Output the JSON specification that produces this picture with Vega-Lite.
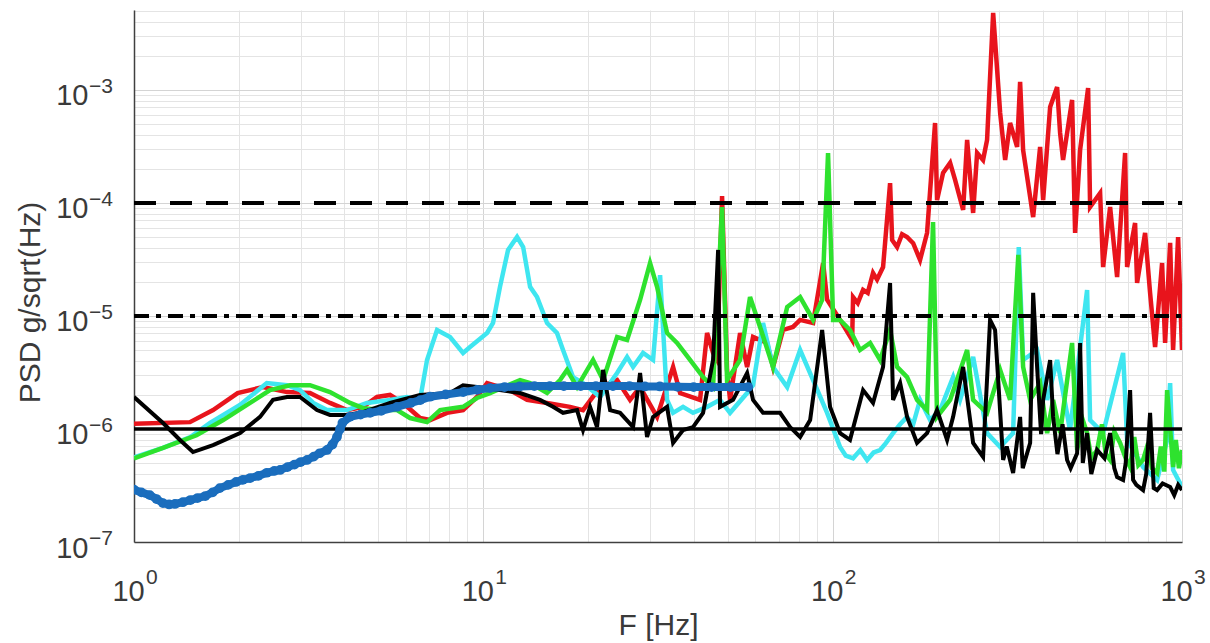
{
  "$schema": "https://vega.github.io/schema/vega-lite/v6.json",
  "autosize": {"type": "none"},
  "padding": {"left": 134, "top": 10, "right": 28, "bottom": 101},
  "width": 1048,
  "height": 532,
  "background": "white",
  "config": {"view": {"stroke": null}, "font": "Liberation Sans"},
  "datasets": {
    "xexp": [
      {"f": 1, "v": 1e-7, "e": "0"}, {"f": 10, "v": 1e-7, "e": "1"}, {"f": 100, "v": 1e-7, "e": "2"}, {"f": 1000, "v": 1e-7, "e": "3"}
    ],
    "yexp": [
      {"f": 1, "v": 1e-7, "e": "−7"}, {"f": 1, "v": 1e-6, "e": "−6"}, {"f": 1, "v": 1e-5, "e": "−5"}, {"f": 1, "v": 1e-4, "e": "−4"}, {"f": 1, "v": 1e-3, "e": "−3"}
    ],
    "ref": [
      {"f": 1, "v": 0.0001, "k": "dash"}, {"f": 1000, "v": 0.0001, "k": "dash"},
      {"f": 1, "v": 0.00001, "k": "dashdot"}, {"f": 1000, "v": 0.00001, "k": "dashdot"},
      {"f": 1, "v": 0.000001, "k": "solid"}, {"f": 1000, "v": 0.000001, "k": "solid"}
    ],
    "red": [
      {"f": 1, "v": 1.11e-6}, {"f": 1.446, "v": 1.15e-6}, {"f": 1.684, "v": 1.47e-6}, {"f": 1.98, "v": 2.08e-6},
      {"f": 2.34, "v": 2.35e-6}, {"f": 2.742, "v": 2.12e-6}, {"f": 3.19, "v": 2.08e-6}, {"f": 3.64, "v": 1.7e-6},
      {"f": 4.073, "v": 1.47e-6}, {"f": 4.525, "v": 1.57e-6}, {"f": 4.963, "v": 1.92e-6}, {"f": 5.407, "v": 2.0e-6},
      {"f": 5.89, "v": 1.7e-6}, {"f": 6.589, "v": 1.25e-6}, {"f": 7.04, "v": 1.2e-6}, {"f": 7.87, "v": 1.39e-6},
      {"f": 8.75, "v": 1.47e-6}, {"f": 9.59, "v": 1.92e-6}, {"f": 10.25, "v": 2.55e-6}, {"f": 11.9, "v": 2.21e-6},
      {"f": 13.34, "v": 1.81e-6}, {"f": 15.22, "v": 1.7e-6}, {"f": 17.71, "v": 1.57e-6}, {"f": 19.29, "v": 1.47e-6},
      {"f": 21.59, "v": 2.35e-6}, {"f": 24.15, "v": 2.71e-6}, {"f": 26.3, "v": 1.81e-6}, {"f": 28.1, "v": 2.35e-6},
      {"f": 31.43, "v": 1.28e-6}, {"f": 34.93, "v": 3.54e-6}, {"f": 36.58, "v": 2.08e-6}, {"f": 41.72, "v": 1.81e-6},
      {"f": 43.7, "v": 7.07e-6}, {"f": 45.45, "v": 4.71e-6}, {"f": 46.67, "v": 4.08e-6}, {"f": 48.24, "v": 1.15e-4},
      {"f": 49.85, "v": 3.33e-6}, {"f": 50.85, "v": 1.81e-6}, {"f": 54.32, "v": 7.07e-6}, {"f": 56.9, "v": 3.54e-6},
      {"f": 59.17, "v": 6.52e-6}, {"f": 64.9, "v": 5.77e-6}, {"f": 67.5, "v": 3.54e-6}, {"f": 72.1, "v": 7.52e-6},
      {"f": 77.0, "v": 8.0e-6}, {"f": 80.7, "v": 9.23e-6}, {"f": 87.9, "v": 8.67e-6}, {"f": 93.9, "v": 2.94e-5},
      {"f": 96.4, "v": 1.39e-5}, {"f": 105, "v": 9.23e-6}, {"f": 113.7, "v": 6.14e-6}, {"f": 114.4, "v": 1.47e-5},
      {"f": 118, "v": 1.3e-5}, {"f": 122.2, "v": 1.7e-5}, {"f": 126, "v": 1.6e-5}, {"f": 130.5, "v": 2.4e-5},
      {"f": 134, "v": 2.1e-5}, {"f": 139.4, "v": 2.71e-5}, {"f": 146, "v": 1.5e-4},
      {"f": 148, "v": 4.71e-5}, {"f": 152.9, "v": 4.08e-5}, {"f": 158, "v": 5.3e-5}, {"f": 163.3, "v": 5.0e-5}, {"f": 170, "v": 4.4e-5}, {"f": 177.9, "v": 3.13e-5},
      {"f": 186.3, "v": 5.43e-5}, {"f": 196.4, "v": 5.1e-4}, {"f": 199, "v": 1.06e-4}, {"f": 207, "v": 1.84e-4},
      {"f": 216.9, "v": 2.26e-4}, {"f": 224.1, "v": 1.6e-4}, {"f": 236.3, "v": 8.67e-5}, {"f": 242.6, "v": 3.61e-4},
      {"f": 252.4, "v": 8.16e-5}, {"f": 259.1, "v": 2.77e-4}, {"f": 269.5, "v": 2.4e-4}, {"f": 276.7, "v": 3.61e-4},
      {"f": 288, "v": 4.8e-3}, {"f": 301.6, "v": 6.25e-4}, {"f": 311.7, "v": 2.4e-4}, {"f": 322, "v": 5.1e-4},
      {"f": 337.3, "v": 3.13e-4}, {"f": 344, "v": 1.18e-3}, {"f": 350.9, "v": 2.94e-4}, {"f": 374.9, "v": 7.5e-5},
      {"f": 392.5, "v": 3.13e-4}, {"f": 400.4, "v": 1.06e-4}, {"f": 419.3, "v": 7.08e-4}, {"f": 439.1, "v": 1.06e-3},
      {"f": 447.8, "v": 4.16e-4}, {"f": 456.6, "v": 2.4e-4}, {"f": 484.6, "v": 8.16e-4}, {"f": 494.3, "v": 5.43e-5},
      {"f": 510.9, "v": 2.94e-4}, {"f": 538.6, "v": 1.04e-3}, {"f": 545.7, "v": 9.2e-5}, {"f": 582.9, "v": 1.22e-4},
      {"f": 594.5, "v": 2.71e-5}, {"f": 622.6, "v": 9.2e-5}, {"f": 652, "v": 2.21e-5}, {"f": 687.3, "v": 2.77e-4},
      {"f": 696.4, "v": 2.71e-5}, {"f": 734, "v": 6.65e-5}, {"f": 743.8, "v": 1.96e-5}, {"f": 784.1, "v": 5.43e-5},
      {"f": 810.3, "v": 1.6e-5}, {"f": 837.5, "v": 5.32e-6}, {"f": 877, "v": 2.94e-5}, {"f": 894.6, "v": 5.77e-6},
      {"f": 924.7, "v": 4.43e-5}, {"f": 943, "v": 5.0e-6}, {"f": 974.6, "v": 5.0e-5}, {"f": 1000, "v": 5.0e-6}
    ],
    "cyan": [
      {"f": 1, "v": 5.6e-7}, {"f": 1.21, "v": 6.8e-7}, {"f": 1.45, "v": 8.5e-7}, {"f": 1.651, "v": 1.13e-6},
      {"f": 2.01, "v": 1.63e-6}, {"f": 2.4, "v": 2.55e-6}, {"f": 2.742, "v": 2.44e-6}, {"f": 2.987, "v": 2.21e-6},
      {"f": 3.26, "v": 1.7e-6}, {"f": 3.568, "v": 1.47e-6}, {"f": 4.073, "v": 1.47e-6}, {"f": 4.645, "v": 1.7e-6},
      {"f": 5.407, "v": 1.81e-6}, {"f": 6.048, "v": 1.92e-6}, {"f": 6.589, "v": 1.81e-6}, {"f": 6.9, "v": 4.08e-6},
      {"f": 7.37, "v": 7.52e-6}, {"f": 8.03, "v": 6.52e-6}, {"f": 8.75, "v": 4.71e-6}, {"f": 9.16, "v": 5.32e-6},
      {"f": 10.25, "v": 7.07e-6}, {"f": 10.66, "v": 8.67e-6}, {"f": 11.16, "v": 1.81e-5}, {"f": 11.77, "v": 3.84e-5},
      {"f": 12.49, "v": 5.0e-5}, {"f": 13.0, "v": 4.08e-5}, {"f": 13.61, "v": 1.81e-5}, {"f": 14.25, "v": 1.47e-5},
      {"f": 15.22, "v": 8.67e-6}, {"f": 16.25, "v": 7.07e-6}, {"f": 16.91, "v": 5.0e-6}, {"f": 18.06, "v": 2.88e-6},
      {"f": 19.29, "v": 2.55e-6}, {"f": 21.59, "v": 1.92e-6}, {"f": 24.15, "v": 3.13e-6}, {"f": 25.79, "v": 4.34e-6},
      {"f": 26.83, "v": 3.54e-6}, {"f": 28.66, "v": 4.71e-6}, {"f": 30.61, "v": 4.08e-6}, {"f": 32.06, "v": 2.3e-5},
      {"f": 33.57, "v": 1.81e-6}, {"f": 34.93, "v": 1.39e-6}, {"f": 37.3, "v": 1.57e-6}, {"f": 39.84, "v": 1.39e-6},
      {"f": 43.7, "v": 1.57e-6}, {"f": 47.6, "v": 1.81e-6}, {"f": 50.85, "v": 1.39e-6}, {"f": 56.9, "v": 2.08e-6},
      {"f": 59.17, "v": 2.44e-6}, {"f": 63.2, "v": 8.67e-6}, {"f": 67.5, "v": 3.54e-6}, {"f": 74.1, "v": 2.35e-6},
      {"f": 80.7, "v": 5.0e-6}, {"f": 87.9, "v": 2.71e-6}, {"f": 96.4, "v": 1.39e-6}, {"f": 105, "v": 6.93e-7},
      {"f": 109, "v": 5.8e-7}, {"f": 114.4, "v": 5.5e-7}, {"f": 120, "v": 6.5e-7}, {"f": 125.5, "v": 5.32e-7}, {"f": 131, "v": 6.2e-7}, {"f": 136.7, "v": 6.52e-7}, {"f": 142, "v": 7.5e-7}, {"f": 148.9, "v": 9.2e-7},
      {"f": 156, "v": 1.1e-6}, {"f": 163.3, "v": 1.28e-6}, {"f": 170, "v": 1.1e-6}, {"f": 177.9, "v": 1.81e-6}, {"f": 190, "v": 1.2e-6}, {"f": 203, "v": 1.47e-6}, {"f": 221.2, "v": 2.88e-6},
      {"f": 231.6, "v": 1.81e-6}, {"f": 252.4, "v": 4.34e-6}, {"f": 276.7, "v": 9.2e-7}, {"f": 301.6, "v": 6.93e-7},
      {"f": 328.5, "v": 9.2e-7}, {"f": 341, "v": 4.08e-5}, {"f": 350.9, "v": 4.08e-6}, {"f": 384.8, "v": 5.0e-6},
      {"f": 411.1, "v": 1.81e-6}, {"f": 439.1, "v": 4.08e-6}, {"f": 478, "v": 9.8e-7}, {"f": 535, "v": 1.7e-5},
      {"f": 545.7, "v": 1.2e-6}, {"f": 594.5, "v": 9.2e-7}, {"f": 678.3, "v": 4.71e-6}, {"f": 696.4, "v": 8.0e-7},
      {"f": 773.7, "v": 4.61e-7}, {"f": 848.6, "v": 3.54e-7}, {"f": 906.6, "v": 8.0e-7}, {"f": 924.7, "v": 2.55e-6},
      {"f": 943, "v": 4.34e-7}, {"f": 1000, "v": 3.07e-7}
    ],
    "green": [
      {"f": 1, "v": 5.5e-7}, {"f": 1.211, "v": 6.8e-7}, {"f": 1.51, "v": 8.8e-7}, {"f": 1.8, "v": 1.2e-6},
      {"f": 2.149, "v": 1.7e-6}, {"f": 2.451, "v": 2.21e-6}, {"f": 2.797, "v": 2.44e-6}, {"f": 3.19, "v": 2.44e-6},
      {"f": 3.64, "v": 2.12e-6}, {"f": 4.154, "v": 1.7e-6}, {"f": 4.525, "v": 1.53e-6}, {"f": 5.164, "v": 1.47e-6},
      {"f": 5.662, "v": 1.47e-6}, {"f": 6.169, "v": 1.25e-6}, {"f": 6.9, "v": 1.15e-6}, {"f": 7.52, "v": 1.47e-6},
      {"f": 8.75, "v": 1.57e-6}, {"f": 9.59, "v": 1.88e-6}, {"f": 10.45, "v": 2.08e-6}, {"f": 12.74, "v": 2.71e-6},
      {"f": 13.61, "v": 2.55e-6}, {"f": 15.22, "v": 2.08e-6}, {"f": 16.58, "v": 2.71e-6}, {"f": 17.36, "v": 3.33e-6},
      {"f": 18.55, "v": 2.35e-6}, {"f": 20.61, "v": 4.08e-6}, {"f": 22.02, "v": 2.71e-6}, {"f": 24.15, "v": 6.52e-6},
      {"f": 25.79, "v": 6.14e-6}, {"f": 28.1, "v": 1.39e-5}, {"f": 30.01, "v": 2.94e-5}, {"f": 31.43, "v": 1.81e-5},
      {"f": 33.57, "v": 7.07e-6}, {"f": 35.86, "v": 5.77e-6}, {"f": 39.06, "v": 4.08e-6}, {"f": 42.56, "v": 2.88e-6},
      {"f": 45.45, "v": 2.35e-6}, {"f": 48.24, "v": 9.2e-5}, {"f": 49.85, "v": 2.71e-6}, {"f": 54.32, "v": 4.08e-6},
      {"f": 58, "v": 1.47e-5}, {"f": 61.96, "v": 8.0e-6}, {"f": 67.5, "v": 3.54e-6}, {"f": 74.1, "v": 1.2e-5},
      {"f": 80.7, "v": 1.47e-5}, {"f": 87.9, "v": 9.23e-6}, {"f": 93.3, "v": 1.39e-5}, {"f": 97, "v": 2.77e-4},
      {"f": 100.3, "v": 9.23e-6}, {"f": 105, "v": 9.23e-6}, {"f": 112.1, "v": 7.52e-6}, {"f": 119.8, "v": 5.0e-6},
      {"f": 128, "v": 5.77e-6}, {"f": 136.7, "v": 4.08e-6}, {"f": 146, "v": 7.52e-6}, {"f": 152.9, "v": 3.54e-6},
      {"f": 163.3, "v": 2.88e-6}, {"f": 174.4, "v": 1.81e-6}, {"f": 186.3, "v": 1.47e-6}, {"f": 193.8, "v": 6.79e-5},
      {"f": 199, "v": 1.28e-6}, {"f": 216.9, "v": 1.81e-6}, {"f": 242.6, "v": 5.0e-6}, {"f": 252.4, "v": 1.81e-6},
      {"f": 276.7, "v": 1.39e-6}, {"f": 301.6, "v": 3.33e-6}, {"f": 322, "v": 1.81e-6}, {"f": 340, "v": 3.47e-5},
      {"f": 350.9, "v": 3.54e-6}, {"f": 367.5, "v": 1.81e-6}, {"f": 392.5, "v": 2.55e-6}, {"f": 411.1, "v": 9.2e-7},
      {"f": 427.6, "v": 1.81e-6}, {"f": 447.8, "v": 9.2e-7}, {"f": 484.6, "v": 5.77e-6}, {"f": 500.9, "v": 6.52e-7},
      {"f": 520, "v": 1.2e-6}, {"f": 535, "v": 9.2e-7}, {"f": 550, "v": 5.5e-7}, {"f": 571.5, "v": 6.52e-7}, {"f": 590, "v": 1.1e-6}, {"f": 605, "v": 6.0e-7},
      {"f": 622.6, "v": 5.32e-7}, {"f": 640, "v": 9.5e-7}, {"f": 665, "v": 7.52e-7}, {"f": 690, "v": 5.5e-7},
      {"f": 710.3, "v": 4.61e-7}, {"f": 730, "v": 8.5e-7}, {"f": 750, "v": 4.8e-7}, {"f": 773.7, "v": 5.32e-7}, {"f": 800, "v": 7.5e-7}, {"f": 820, "v": 4.5e-7},
      {"f": 848.6, "v": 4.08e-7}, {"f": 870, "v": 7.0e-7}, {"f": 890, "v": 4.2e-7}, {"f": 906.6, "v": 2.21e-6},
      {"f": 943, "v": 4.61e-7}, {"f": 960, "v": 8.0e-7}, {"f": 980, "v": 4.5e-7}, {"f": 1000, "v": 6.52e-7}
    ],
    "black": [
      {"f": 1, "v": 1.92e-6}, {"f": 1.211, "v": 1.13e-6}, {"f": 1.354, "v": 8.0e-7}, {"f": 1.475, "v": 6.25e-7},
      {"f": 1.684, "v": 7.2e-7}, {"f": 2.012, "v": 9.2e-7}, {"f": 2.295, "v": 1.28e-6}, {"f": 2.5, "v": 1.81e-6},
      {"f": 2.742, "v": 1.92e-6}, {"f": 2.987, "v": 1.92e-6}, {"f": 3.34, "v": 1.47e-6}, {"f": 3.64, "v": 1.33e-6},
      {"f": 4.073, "v": 1.33e-6}, {"f": 4.525, "v": 1.41e-6}, {"f": 5.407, "v": 1.7e-6}, {"f": 6.589, "v": 2.0e-6},
      {"f": 8.03, "v": 2.08e-6}, {"f": 8.75, "v": 2.44e-6}, {"f": 9.59, "v": 2.35e-6}, {"f": 11.16, "v": 2.21e-6},
      {"f": 12.74, "v": 2.08e-6}, {"f": 14.53, "v": 1.81e-6}, {"f": 15.83, "v": 1.57e-6}, {"f": 16.91, "v": 1.39e-6},
      {"f": 18.55, "v": 1.47e-6}, {"f": 19.29, "v": 9.8e-7}, {"f": 20.21, "v": 1.57e-6}, {"f": 21.16, "v": 1.04e-6},
      {"f": 22.02, "v": 3.33e-6}, {"f": 23.06, "v": 1.47e-6}, {"f": 24.63, "v": 1.39e-6}, {"f": 26.83, "v": 1.04e-6},
      {"f": 28.1, "v": 3.13e-6}, {"f": 29.42, "v": 8.5e-7}, {"f": 30.61, "v": 1.28e-6}, {"f": 33.57, "v": 1.57e-6},
      {"f": 34.93, "v": 7.52e-7}, {"f": 37.3, "v": 9.8e-7}, {"f": 39.84, "v": 1.04e-6}, {"f": 42.56, "v": 1.39e-6},
      {"f": 45.45, "v": 4.08e-6}, {"f": 47, "v": 3.84e-5}, {"f": 47.6, "v": 1.57e-6}, {"f": 51.87, "v": 1.81e-6},
      {"f": 56.9, "v": 3.13e-6}, {"f": 59.17, "v": 1.81e-6}, {"f": 63.2, "v": 1.39e-6}, {"f": 70.7, "v": 1.39e-6},
      {"f": 75.5, "v": 1.04e-6}, {"f": 80.7, "v": 8.5e-7}, {"f": 86.2, "v": 1.2e-6}, {"f": 93.3, "v": 7.52e-6},
      {"f": 98.3, "v": 1.57e-6}, {"f": 105, "v": 9.2e-7}, {"f": 112.1, "v": 8.0e-7}, {"f": 122.2, "v": 2.21e-6},
      {"f": 130.5, "v": 1.7e-6}, {"f": 139.4, "v": 3.54e-6}, {"f": 146, "v": 1.96e-5}, {"f": 148.9, "v": 1.81e-6},
      {"f": 156, "v": 2.55e-6}, {"f": 163.3, "v": 1.28e-6}, {"f": 174.4, "v": 7.52e-7}, {"f": 186.3, "v": 9.2e-7},
      {"f": 199, "v": 1.47e-6}, {"f": 212.6, "v": 8.0e-7}, {"f": 221.2, "v": 1.28e-6}, {"f": 236.3, "v": 3.54e-6},
      {"f": 252.4, "v": 7.52e-7}, {"f": 269.5, "v": 5.65e-7}, {"f": 282.2, "v": 9.23e-6}, {"f": 291.7, "v": 7.52e-6},
      {"f": 307.6, "v": 5.32e-7}, {"f": 315, "v": 7.0e-7}, {"f": 328.5, "v": 4.08e-7}, {"f": 344, "v": 1.28e-6}, {"f": 350, "v": 4.5e-7}, {"f": 367.5, "v": 7.52e-7},
      {"f": 374.9, "v": 1.6e-5}, {"f": 384.8, "v": 3.54e-6}, {"f": 395, "v": 9.0e-7}, {"f": 400.4, "v": 1.81e-6}, {"f": 419.3, "v": 4.08e-6},
      {"f": 427.6, "v": 1.28e-6}, {"f": 440, "v": 6.0e-7}, {"f": 455, "v": 1.1e-6}, {"f": 468.9, "v": 5.32e-7}, {"f": 480, "v": 4.5e-7}, {"f": 500.9, "v": 6.1e-7}, {"f": 510.9, "v": 5.77e-6},
      {"f": 520, "v": 5.0e-7}, {"f": 535, "v": 9.2e-7}, {"f": 550, "v": 4.0e-7}, {"f": 571.5, "v": 6.52e-7}, {"f": 600, "v": 5.5e-7}, {"f": 622.6, "v": 9.2e-7}, {"f": 640, "v": 4.5e-7}, {"f": 652, "v": 3.76e-7},
      {"f": 678.3, "v": 3.54e-7}, {"f": 690, "v": 5.0e-7}, {"f": 710.3, "v": 2.21e-6}, {"f": 724.4, "v": 3.54e-7}, {"f": 740, "v": 3.2e-7}, {"f": 773.7, "v": 2.88e-7},
      {"f": 790, "v": 4.0e-7}, {"f": 810.3, "v": 1.39e-6}, {"f": 830, "v": 3.0e-7}, {"f": 848.6, "v": 2.88e-7}, {"f": 880, "v": 3.3e-7}, {"f": 924.7, "v": 3.07e-7}, {"f": 950, "v": 2.6e-7}, {"f": 975, "v": 3.2e-7}, {"f": 1000, "v": 2.88e-7}
    ],
    "blue": [
      {"f": 1, "v": 2.9e-7}, {"f": 1.05, "v": 2.75e-7}, {"f": 1.11, "v": 2.6e-7}, {"f": 1.16, "v": 2.4e-7},
      {"f": 1.21, "v": 2.21e-7}, {"f": 1.26, "v": 2.15e-7}, {"f": 1.31, "v": 2.17e-7}, {"f": 1.38, "v": 2.25e-7},
      {"f": 1.45, "v": 2.35e-7}, {"f": 1.52, "v": 2.45e-7}, {"f": 1.6, "v": 2.55e-7}, {"f": 1.68, "v": 2.75e-7},
      {"f": 1.76, "v": 3.0e-7}, {"f": 1.86, "v": 3.2e-7}, {"f": 1.96, "v": 3.4e-7}, {"f": 2.05, "v": 3.55e-7},
      {"f": 2.15, "v": 3.68e-7}, {"f": 2.27, "v": 3.85e-7}, {"f": 2.4, "v": 4.1e-7}, {"f": 2.52, "v": 4.25e-7},
      {"f": 2.62, "v": 4.34e-7}, {"f": 2.75, "v": 4.6e-7}, {"f": 2.88, "v": 4.85e-7}, {"f": 3.0, "v": 5.1e-7},
      {"f": 3.13, "v": 5.32e-7}, {"f": 3.27, "v": 5.7e-7}, {"f": 3.4, "v": 6.1e-7}, {"f": 3.57, "v": 6.52e-7},
      {"f": 3.7, "v": 7.3e-7}, {"f": 3.81, "v": 8.5e-7}, {"f": 3.89, "v": 1.0e-6}, {"f": 3.95, "v": 1.13e-6},
      {"f": 4.15, "v": 1.28e-6}, {"f": 4.45, "v": 1.34e-6}, {"f": 4.74, "v": 1.39e-6}, {"f": 5.1, "v": 1.45e-6},
      {"f": 5.66, "v": 1.57e-6}, {"f": 6.2, "v": 1.7e-6}, {"f": 6.6, "v": 1.8e-6}, {"f": 7.04, "v": 1.93e-6},
      {"f": 7.8, "v": 2.02e-6}, {"f": 8.76, "v": 2.12e-6}, {"f": 9.6, "v": 2.22e-6}, {"f": 10.45, "v": 2.3e-6},
      {"f": 11.5, "v": 2.35e-6}, {"f": 12.7, "v": 2.38e-6}, {"f": 14, "v": 2.4e-6}, {"f": 15.5, "v": 2.4e-6},
      {"f": 17, "v": 2.4e-6}, {"f": 19, "v": 2.4e-6}, {"f": 21, "v": 2.4e-6}, {"f": 23.5, "v": 2.4e-6},
      {"f": 26.2, "v": 2.4e-6}, {"f": 29, "v": 2.38e-6}, {"f": 32, "v": 2.38e-6}, {"f": 36, "v": 2.36e-6},
      {"f": 40, "v": 2.35e-6}, {"f": 45, "v": 2.35e-6}, {"f": 51, "v": 2.35e-6}, {"f": 57.3, "v": 2.35e-6}
    ]
  },
  "encoding": {
    "x": {
      "field": "f", "type": "quantitative",
      "scale": {"type": "log", "domain": [1, 1000], "nice": false},
      "axis": {
        "title": "F [Hz]", "titleFont": "Liberation Sans", "titleFontSize": 30, "titleFontWeight": "normal", "titleColor": "#3a3a3a",
        "titleY": 83, "titleBaseline": "middle",
        "values": [1,2,3,4,5,6,7,8,9,10,20,30,40,50,60,70,80,90,100,200,300,400,500,600,700,800,900,1000],
        "labelExpr": "datum.value == 1 || datum.value == 10 || datum.value == 100 || datum.value == 1000 ? '10' : ''",
        "labelFont": "Liberation Sans", "labelFontSize": 29, "labelColor": "#3a3a3a", "labelPadding": 58, "labelBaseline": "alphabetic", "labelOffset": -6,
        "labelOverlap": false, "labelFlush": false, "labelBound": false,
        "ticks": false, "domainColor": "#404040", "domainWidth": 1.5,
        "grid": true,
        "gridColor": {"condition": {"test": "datum.value == 1 || datum.value == 10 || datum.value == 100 || datum.value == 1000", "value": "#d4d4d4"}, "value": "#e4e4e4"},
        "gridWidth": 1
      }
    },
    "y": {
      "field": "v", "type": "quantitative",
      "scale": {"type": "log", "domain": [1e-7, 0.0051], "nice": false},
      "axis": {
        "title": "PSD g/sqrt(Hz)", "titleFont": "Liberation Sans", "titleFontSize": 30, "titleFontWeight": "normal", "titleColor": "#3a3a3a",
        "titleX": -104, "titleY": 292, "titleBaseline": "middle", "titleAlign": "center",
        "values": [1e-7,2e-7,3e-7,4e-7,5e-7,6e-7,7e-7,8e-7,9e-7,1e-6,2e-6,3e-6,4e-6,5e-6,6e-6,7e-6,8e-6,9e-6,1e-5,2e-5,3e-5,4e-5,5e-5,6e-5,7e-5,8e-5,9e-5,1e-4,2e-4,3e-4,4e-4,5e-4,6e-4,7e-4,8e-4,9e-4,1e-3,2e-3,3e-3,4e-3,5e-3],
        "labelExpr": "abs(log(datum.value)/LN10 - round(log(datum.value)/LN10)) > 0.001 ? '' : '10'",
        "labelFont": "Liberation Sans", "labelFontSize": 29, "labelColor": "#3a3a3a", "labelPadding": 46, "labelBaseline": "alphabetic", "labelOffset": 15,
        "labelOverlap": false, "labelFlush": false, "labelBound": false,
        "ticks": false, "domainColor": "#404040", "domainWidth": 1.5,
        "grid": true,
        "gridColor": {"condition": {"test": "abs(log(datum.value)/LN10 - round(log(datum.value)/LN10)) < 0.001", "value": "#d4d4d4"}, "value": "#e4e4e4"},
        "gridWidth": 1
      }
    }
  },
  "layer": [
    {"data": {"name": "red"}, "mark": {"type": "line", "color": "#e8141c", "strokeWidth": 4.5, "clip": true}},
    {"data": {"name": "cyan"}, "mark": {"type": "line", "color": "#3fe6f0", "strokeWidth": 4.5, "clip": true}},
    {"data": {"name": "green"}, "mark": {"type": "line", "color": "#2ee22e", "strokeWidth": 4.5, "clip": true}},
    {"data": {"name": "black"}, "mark": {"type": "line", "color": "#000000", "strokeWidth": 4, "clip": true}},
    {"data": {"name": "ref"}, "transform": [{"filter": "datum.k == 'dash'"}], "mark": {"type": "line", "color": "#000000", "strokeWidth": 4, "strokeDash": [22, 14]}},
    {"data": {"name": "ref"}, "transform": [{"filter": "datum.k == 'dashdot'"}], "mark": {"type": "line", "color": "#000000", "strokeWidth": 4, "strokeDash": [15, 7, 5, 7]}},
    {"data": {"name": "ref"}, "transform": [{"filter": "datum.k == 'solid'"}], "mark": {"type": "line", "color": "#000000", "strokeWidth": 3.5}},
    {"data": {"name": "blue"}, "mark": {"type": "line", "color": "#1a6dbd", "strokeWidth": 8, "clip": true, "point": {"filled": true, "size": 95, "color": "#1a6dbd"}}},
    {"data": {"name": "xexp"}, "mark": {"type": "text", "align": "left", "baseline": "alphabetic", "dx": 12, "dy": 42, "fontSize": 21, "font": "Liberation Sans", "color": "#3a3a3a"}, "encoding": {"text": {"field": "e"}}},
    {"data": {"name": "yexp"}, "mark": {"type": "text", "align": "left", "baseline": "alphabetic", "dx": -45, "dy": 3, "fontSize": 21, "font": "Liberation Sans", "color": "#3a3a3a"}, "encoding": {"text": {"field": "e"}}}
  ]
}
